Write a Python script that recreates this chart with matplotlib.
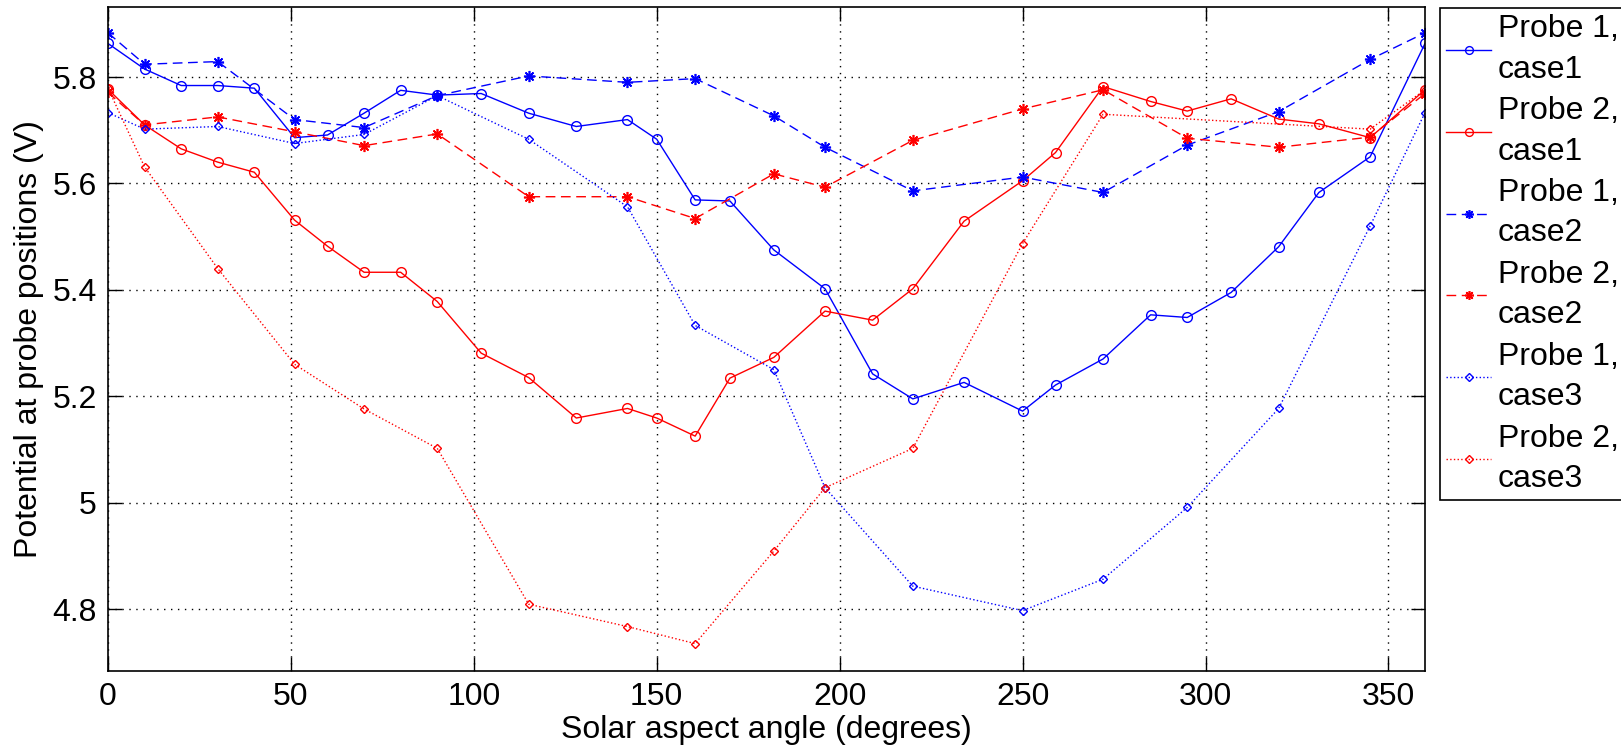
import matplotlib.pyplot as plt
from matplotlib.ticker import FormatStrFormatter

# --- data ---
angles_case1 = [0, 10, 20, 30, 40, 51, 60, 70, 80, 90, 102, 115, 128, 142, 150,
                160.5, 170, 182, 196, 209, 220, 234, 250, 259, 272, 285, 295,
                307, 320, 331, 345, 360]
probe1_case1 = [5.863, 5.815, 5.784, 5.784, 5.779, 5.686, 5.691, 5.732, 5.775,
                5.766, 5.769, 5.732, 5.707, 5.720, 5.683, 5.569, 5.567, 5.475,
                5.402, 5.242, 5.195, 5.226, 5.172, 5.221, 5.270, 5.353, 5.348,
                5.395, 5.481, 5.583, 5.650, 5.863]
probe2_case1 = [5.777, 5.710, 5.665, 5.640, 5.621, 5.531, 5.482, 5.433, 5.433,
                5.378, 5.281, 5.235, 5.159, 5.177, 5.159, 5.125, 5.234, 5.273,
                5.360, 5.343, 5.402, 5.529, 5.605, 5.658, 5.782, 5.754, 5.736,
                5.759, 5.721, 5.712, 5.686, 5.776]

angles_case2 = [0, 10, 30, 51, 70, 90, 115, 142, 160.5, 182, 196, 220, 250,
                272, 295, 320, 345, 360]
probe1_case2 = [5.883, 5.824, 5.829, 5.720, 5.705, 5.765, 5.802, 5.790, 5.797,
                5.727, 5.668, 5.586, 5.612, 5.583, 5.672, 5.735, 5.833, 5.883]
probe2_case2 = [5.771, 5.710, 5.725, 5.697, 5.671, 5.693, 5.575, 5.575, 5.534,
                5.618, 5.593, 5.681, 5.740, 5.776, 5.685, 5.668, 5.687, 5.769]

angles_p1_case3 = [0, 10, 30, 51, 70, 90, 115, 142, 160.5, 182, 196, 220, 250,
                   272, 295, 320, 345, 360]
probe1_case3 = [5.733, 5.702, 5.707, 5.675, 5.692, 5.765, 5.683, 5.556, 5.333,
                5.250, 5.028, 4.843, 4.797, 4.856, 4.991, 5.177, 5.520, 5.733]
angles_p2_case3 = [0, 10, 30, 51, 70, 90, 115, 142, 160.5, 182, 196, 220, 250,
                   272, 345, 360]
probe2_case3 = [5.779, 5.631, 5.440, 5.260, 5.176, 5.102, 4.809, 4.767, 4.735,
                4.909, 5.028, 5.102, 5.487, 5.730, 5.702, 5.776]

labels = ["Probe 1,\ncase1", "Probe 2,\ncase1", "Probe 1,\ncase2",
          "Probe 2,\ncase2", "Probe 1,\ncase3", "Probe 2,\ncase3"]

plt.rcParams['font.family'] = ['Liberation Sans', 'DejaVu Sans']

fig = plt.figure(figsize=(16.21, 7.48), dpi=100)
ax = fig.add_axes([108 / 1621, 1 - 671 / 748, 1317 / 1621, 664 / 748])

asterisk = (8, 2, 0)
ax.plot(angles_case1, probe1_case1, '-', color='b', lw=1, marker='o', ms=7,
        mfc='none', mec='b', label=labels[0])
ax.plot(angles_case1, probe2_case1, '-', color='r', lw=1, marker='o', ms=7,
        mfc='none', mec='r', label=labels[1])
ax.plot(angles_case2, probe1_case2, '--', color='b', lw=1, dashes=(7, 4),
        marker=asterisk, ms=8, mec='b', mew=1.2, label=labels[2])
ax.plot(angles_case2, probe2_case2, '--', color='r', lw=1, dashes=(7, 4),
        marker=asterisk, ms=8, mec='r', mew=1.2, label=labels[3])
ax.plot(angles_p1_case3, probe1_case3, ':', color='b', lw=1, marker='D', ms=4.5,
        mfc='none', mec='b', label=labels[4])
ax.plot(angles_p2_case3, probe2_case3, ':', color='r', lw=1, marker='D', ms=4.5,
        mfc='none', mec='r', label=labels[5])

# --- axes ---
ax.set_xlim(0, 360)
ax.set_ylim(4.6835, 5.9316)
ax.set_xticks(range(0, 351, 50))
ax.set_yticks([4.8, 5.0, 5.2, 5.4, 5.6, 5.8])
ax.yaxis.set_major_formatter(FormatStrFormatter('%g'))
ax.tick_params(direction='in', length=10, width=1, top=True, right=True,
               labelsize=23, pad=8)
ax.grid(True, color='k', linestyle=(0, (1, 4)), linewidth=1)
for s in ax.spines.values():
    s.set_linewidth(1.2)

ax.set_xlabel("Solar aspect angle (degrees)", fontsize=23, labelpad=2)
ax.set_ylabel("Potential at probe positions (V)", fontsize=23, labelpad=6)

# --- legend ---
leg = fig.legend(loc='upper left', bbox_to_anchor=(1440 / 1621, 1 - 8 / 748),
                 borderaxespad=0, fontsize=23, handlelength=1.4,
                 handletextpad=0.2, labelspacing=0.36, borderpad=0.2,
                 markerscale=0.8, fancybox=False, framealpha=1, edgecolor='k')
leg.get_frame().set_linewidth(1.2)
for t in leg.get_texts():
    t.set_linespacing(1.45)

plt.savefig("out.png", dpi=100)
